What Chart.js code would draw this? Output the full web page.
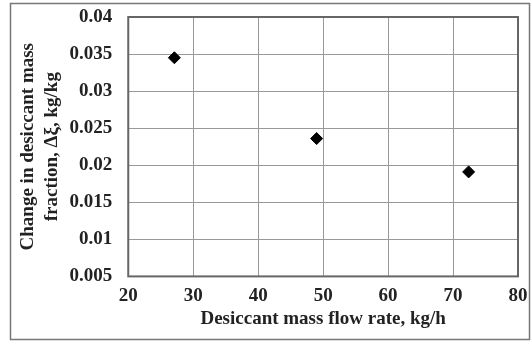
<!DOCTYPE html>
<html>
<head>
<meta charset="utf-8">
<script src="https://cdn.jsdelivr.net/npm/chart.js@4"></script>
<style>
  html, body { margin: 0; padding: 0; background: #fff; }
  #wrap { width: 532px; height: 344px; position: relative; }
</style>
</head>
<body>
<div id="wrap"><canvas id="massChart" width="532" height="344"></canvas></div>
<script>
const flowRates = [27.1, 49, 72.4];
const deltaXi = [0.0345, 0.0236, 0.0191];
const xTitle = 'Desiccant mass flow rate, kg/h';
const yTitle = ['Change in desiccant mass', 'fraction, \u0394\u03be, kg/kg'];

const serif = "'Liberation Serif', 'Times New Roman', serif";

// outer frame around the whole figure
const framePlugin = {
    id: 'frame',
    beforeDraw(chart) {
        const ctx = chart.ctx;
        ctx.save();
        ctx.fillStyle = '#fff';
        ctx.fillRect(0, 0, chart.width, chart.height);
        ctx.strokeStyle = '#777';
        ctx.lineWidth = 1.5;
        ctx.strokeRect(10.5, 3.5, 519, 336);
        ctx.restore();
    },
    afterDatasetsDraw(chart) {
        const a = chart.chartArea;
        const ctx = chart.ctx;
        ctx.save();
        ctx.strokeStyle = '#666';
        ctx.lineWidth = 2;
        ctx.strokeRect(a.left, a.top, a.right - a.left, a.bottom - a.top);
        ctx.restore();
    }
};

new Chart(document.getElementById('massChart').getContext('2d'), {
    type: 'scatter',
    data: {
        datasets: [{
            data: flowRates.map((x, i) => ({ x: x, y: deltaXi[i] })),
            pointStyle: 'rectRot',
            pointRadius: 6,
            backgroundColor: '#000',
            borderColor: '#000',
            borderWidth: 1
        }]
    },
    options: {
        responsive: false,
        animation: false,
        layout: { padding: { left: 16, right: 0, top: 0, bottom: 14 } },
        plugins: {
            legend: { display: false },
            tooltip: { enabled: false }
        },
        scales: {
            x: {
                type: 'linear',
                min: 20,
                max: 80,
                afterFit: scale => { scale.paddingRight = 14; },
                ticks: {
                    stepSize: 10,
                    color: '#222',
                    padding: 8,
                    font: { family: serif, size: 19, weight: 'bold' }
                },
                grid: { color: '#999', lineWidth: 1, drawTicks: false },
                border: { display: false },
                title: {
                    display: true,
                    text: xTitle,
                    color: '#222',
                    padding: { top: -8, bottom: 0 },
                    font: { family: serif, size: 19, weight: 'bold' }
                }
            },
            y: {
                min: 0.005,
                max: 0.04,
                afterFit: scale => { scale.paddingTop = 17; scale.paddingBottom = 12; },
                ticks: {
                    stepSize: 0.005,
                    color: '#222',
                    padding: 16,
                    font: { family: serif, size: 19, weight: 'bold' },
                    callback: v => parseFloat(v.toFixed(3)).toString()
                },
                grid: { color: '#999', lineWidth: 1, drawTicks: false },
                border: { display: false },
                title: {
                    display: true,
                    text: yTitle,
                    color: '#222',
                    padding: { top: 0, bottom: -10 },
                    font: { family: serif, size: 19, weight: 'bold', lineHeight: 1.25 }
                }
            }
        }
    },
    plugins: [framePlugin]
});
</script>
</body>
</html>
